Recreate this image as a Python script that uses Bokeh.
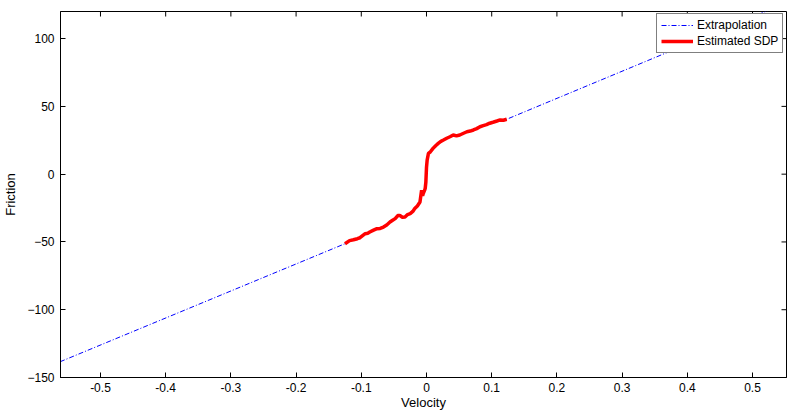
import math
from bokeh.plotting import figure
from bokeh.models import Range1d, FixedTicker, Legend, LegendItem
from bokeh.embed import file_html
from bokeh.resources import INLINE

# Estimated SDP (red) curve
sdp_v = [-0.125, -0.118, -0.112, -0.106, -0.102, -0.097, -0.094, -0.090, -0.087, -0.082,
         -0.076, -0.071, -0.066, -0.061, -0.056, -0.052, -0.048, -0.044, -0.041, -0.037,
         -0.033, -0.029, -0.025, -0.021, -0.018, -0.014, -0.010, -0.0075, -0.006, -0.005,
         -0.003, -0.002, -0.001, 0.000, 0.001, 0.003, 0.006, 0.010, 0.014, 0.018,
         0.022, 0.026, 0.031, 0.036, 0.041, 0.046, 0.051, 0.056, 0.062, 0.067,
         0.072, 0.077, 0.082, 0.087, 0.092, 0.097, 0.102, 0.108, 0.113, 0.118, 0.123]
sdp_f = [-51.3, -49.0, -48.4, -47.6, -46.9, -45.0, -43.9, -43.6, -42.7, -41.5,
         -40.2, -40.0, -39.0, -37.5, -35.3, -34.0, -32.8, -30.5, -30.4, -31.8,
         -31.6, -29.8, -29.1, -27.5, -25.4, -23.5, -20.5, -11.9, -16.0, -14.3,
         -12.0, -10.6, -6.0, 5.0, 10.4, 15.3, 16.5, 19.0, 21.0, 22.7,
         24.2, 25.2, 26.5, 27.6, 28.9, 28.2, 28.9, 30.0, 31.3, 31.8,
         32.6, 33.6, 35.0, 35.8, 36.5, 37.6, 38.3, 39.2, 40.0, 39.8, 40.5]

# Extrapolation (blue): linear continuation on both sides of the SDP data
left_v = [-0.562, -0.125]
left_f = [-138.4, -51.3]
right_v = [0.123, 0.552]
right_f = [40.5, 126.4]
extrap_v = left_v + sdp_v[1:-1] + right_v
extrap_f = left_f + sdp_f[1:-1] + right_f

x_ticks = [-0.5, -0.4, -0.3, -0.2, -0.1, 0.0, 0.1, 0.2, 0.3, 0.4, 0.5]
x_tick_labels = ["-0.5", "-0.4", "-0.3", "-0.2", "-0.1", "0", "0.1", "0.2", "0.3", "0.4", "0.5"]
y_ticks = [-150, -100, -50, 0, 50, 100]
x_min, x_max = -0.5613, 0.5521
y_min, y_max = -150, 120

FONT = "Liberation Sans"

p = figure(width=787, height=412, output_backend="svg", toolbar_location=None,
           x_range=Range1d(x_min, x_max), y_range=Range1d(y_min, y_max),
           min_border_left=60, min_border_right=1, min_border_top=11, min_border_bottom=35)
p.background_fill_color = "white"
p.border_fill_color = "white"
p.outline_line_color = "black"
p.outline_line_width = 1
p.xgrid.visible = False
p.ygrid.visible = False

blue = p.line(extrap_v, extrap_f, line_color="#0000ff", line_width=1, line_dash="5 2 1 2")
red = p.line(sdp_v, sdp_f, line_color="#ff0000", line_width=3.5)

# inward tick marks on the top and right box edges (half of each dash is clipped)
p.scatter(x=x_ticks, y=[y_max] * len(x_ticks), marker="dash", angle=math.pi / 2,
          size=10, line_color="black", line_width=1)
p.scatter(x=[x_max] * len(y_ticks), y=y_ticks, marker="dash",
          size=10, line_color="black", line_width=1)

for ax in p.xaxis:
    ax.ticker = FixedTicker(ticks=x_ticks)
    ax.major_label_overrides = {t: l for t, l in zip(x_ticks, x_tick_labels)}
    ax.axis_label = "Velocity"
    ax.major_label_standoff = 5
    ax.axis_label_standoff = 0
for ax in p.yaxis:
    ax.ticker = FixedTicker(ticks=y_ticks)
    ax.axis_label = "Friction"
    ax.major_label_standoff = 6
    ax.axis_label_standoff = 6

for ax in p.xaxis + p.yaxis:
    ax.major_tick_in = 5
    ax.major_tick_out = 0
    ax.minor_tick_line_color = None
    ax.axis_line_color = "black"
    ax.major_tick_line_color = "black"
    ax.major_label_text_font = FONT
    ax.major_label_text_font_size = "12px"
    ax.major_label_text_color = "black"
    ax.axis_label_text_font = FONT
    ax.axis_label_text_font_size = "13px"
    ax.axis_label_text_font_style = "normal"
    ax.axis_label_text_color = "black"

legend = Legend(items=[LegendItem(label="Extrapolation", renderers=[blue]),
                       LegendItem(label="Estimated SDP", renderers=[red])],
                location=(596, 324))
legend.border_line_color = "black"
legend.border_line_width = 1
legend.background_fill_color = "white"
legend.background_fill_alpha = 1
legend.label_text_font = FONT
legend.label_text_font_size = "12px"
legend.label_text_color = "black"
legend.glyph_width = 32
legend.glyph_height = 14
legend.label_height = 14
legend.spacing = 2
legend.padding = 4
legend.margin = 0
legend.label_standoff = 4
p.add_layout(legend, "center")

open("out.html", "w").write(file_html(p, INLINE))
